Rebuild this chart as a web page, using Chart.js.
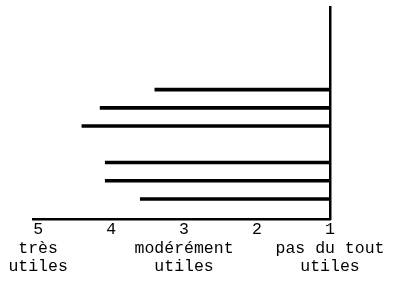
<!DOCTYPE html>
<html>
<head>
<meta charset="utf-8">
<script src="https://cdn.jsdelivr.net/npm/chart.js@4"></script>
<style>
  html, body { margin: 0; padding: 0; background: #fff; }
  #wrap { width: 400px; height: 282px; }
</style>
</head>
<body>
<div id="wrap"><canvas id="scoreChart" width="400" height="282"></canvas></div>
<script>
// rows counted from the bottom of the plot, row 4 is left empty
const rows = [1, 2, 3, 5, 6, 7];
const scores = [3.6, 4.08, 4.08, 4.4, 4.15, 3.4];

const tickValues = [5, 4, 3, 2, 1];
const tickNotes = [["très", "utiles"], [], ["modérément", "utiles"], [], ["pas du tout", "utiles"]];

const monoFont = { family: "'Liberation Mono', 'DejaVu Sans Mono', monospace", size: 16.5, lineHeight: 1.12 };

const ctx = document.getElementById("scoreChart").getContext("2d");
new Chart(ctx, {
  type: "bar",
  data: {
    datasets: [{
      data: rows.map((r, i) => ({ y: r, x: [1, scores[i]] })),
      backgroundColor: "#000",
      borderWidth: 0,
      barThickness: 3
    }]
  },
  options: {
    indexAxis: "y",
    responsive: false,
    animation: false,
    layout: { padding: { top: 7, left: 33, right: 70, bottom: 5 } },
    plugins: { legend: { display: false }, tooltip: { enabled: false } },
    scales: {
      x: {
        type: "linear",
        reverse: true,
        min: 1,
        max: 5.07,
        grid: { display: false, drawTicks: false },
        border: { color: "#000", width: 2.5 },
        ticks: {
          stepSize: 1,
          includeBounds: false,
          autoSkip: false,
          color: "#000",
          padding: 1,
          maxRotation: 0,
          font: monoFont,
          callback: (v) => {
            const i = tickValues.indexOf(v);
            if (i < 0) return "";
            return [String(v)].concat(tickNotes[i]);
          }
        }
      },
      y: {
        type: "linear",
        position: "right",
        offset: false,
        min: -0.13,
        max: 11.53,
        grid: { display: false, drawTicks: false },
        border: { color: "#000", width: 2.5 },
        ticks: { display: false }
      }
    }
  }
});
</script>
</body>
</html>
